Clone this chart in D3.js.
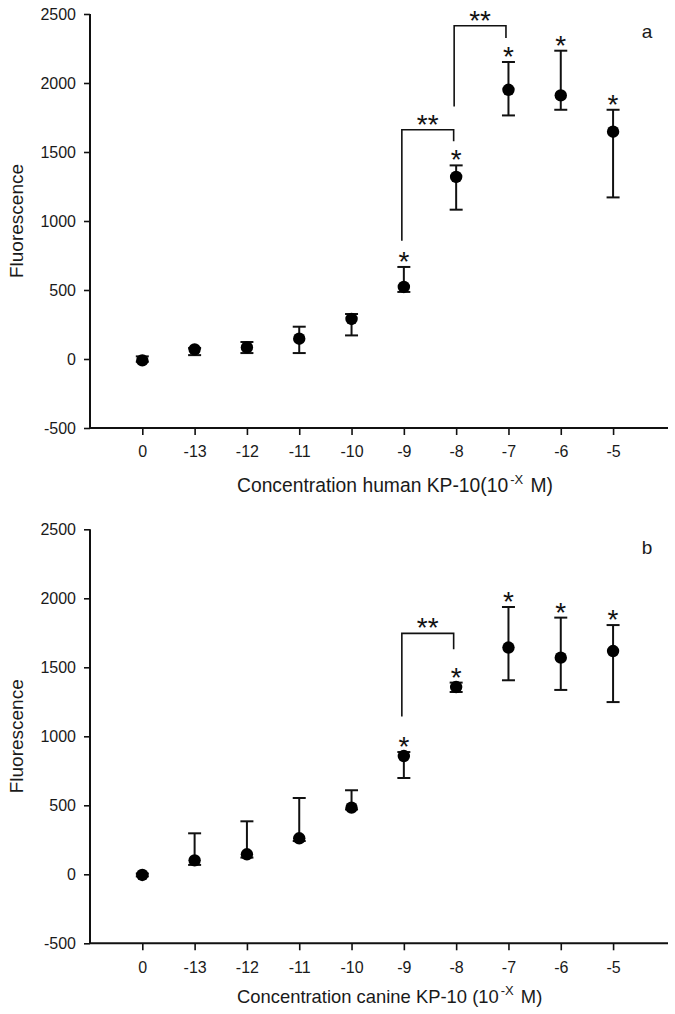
<!DOCTYPE html>
<html>
<head>
<meta charset="utf-8">
<script src="https://cdn.jsdelivr.net/npm/d3@7"></script>
<style>
  html, body { margin: 0; padding: 0; background: #fff; }
  svg { display: block; font-family: "Liberation Sans", Arial, sans-serif; }
</style>
</head>
<body>
<svg id="chart" width="675" height="1014"></svg>
<script>
// ---- data ----
const concentrations = ["0", "-13", "-12", "-11", "-10", "-9", "-8", "-7", "-6", "-5"];
const yTicks = [-500, 0, 500, 1000, 1500, 2000, 2500];
const yTickLabels = ["-500", "0", "500", "1000", "1500", "2000", "2500"];

const humanMean  = [-10, 70, 84, 147, 290, 522, 1319, 1951, 1910, 1647];
const humanUpper = [19, 80, 123, 234, 326, 667, 1403, 2152, 2234, 1806];
const humanLower = [-20, 28, 43, 43, 171, 486, 1082, 1765, 1806, 1171];
const humanSig   = ["", "", "", "", "", "*", "*", "*", "*", "*"];
// brackets: [left category, right category, left leg bottom, top, right leg bottom]
const humanBrackets = [
  ["-9", "-8", 857, 1661, 1577],
  ["-8", "-7", 1830, 2415, 2326]
];

const canineMean  = [-5, 101, 145, 261, 483, 857, 1357, 1643, 1570, 1618];
const canineUpper = [5, 297, 384, 553, 609, 886, 1389, 1937, 1860, 1806];
const canineLower = [-15, 68, 121, 241, 470, 698, 1321, 1406, 1336, 1248];
const canineSig   = ["", "", "", "", "", "*", "*", "*", "*", "*"];
const canineBrackets = [
  ["-9", "-8", 1143, 1746, 1630]
];

// ---- drawing ----
const svg = d3.select("#chart");
const ink = "#111";

function panel(cfg) {
  const g = svg.append("g");
  const x = d3.scaleLinear().domain([-1, 10.05]).range([90, 668]);
  const y = d3.scaleLinear().domain([-500, 2500]).range([cfg.bottom, cfg.bottom - 414]);
  const xi = c => x(concentrations.indexOf(c));

  // y axis
  const yAxis = g.append("g").attr("transform", "translate(90,0)")
    .call(d3.axisLeft(y).tickValues(yTicks).tickSize(6).tickPadding(8)
      .tickFormat(v => yTickLabels[yTicks.indexOf(v)]));
  // x axis
  const xAxis = g.append("g").attr("transform", `translate(0,${cfg.bottom})`)
    .call(d3.axisBottom(x).tickValues(d3.range(concentrations.length)).tickSize(7).tickPadding(11)
      .tickFormat(i => concentrations[i]));
  [yAxis, xAxis].forEach(a => {
    a.select(".domain").attr("stroke", ink).attr("stroke-width", 2);
    a.selectAll(".tick line").attr("stroke", ink).attr("stroke-width", 1.6);
    a.selectAll(".tick text").attr("fill", "#1a1a1a").style("font-size", "16px")
      .style("font-family", '"Liberation Sans", Arial, sans-serif');
  });
  yAxis.select(".domain").attr("d", `M0,${y(2500)}V${y(-500)}`);
  xAxis.select(".domain").attr("d", `M90,0H668`);

  const data = concentrations.map((c, i) => ({
    c, m: cfg.mean[i], hi: cfg.upper[i], lo: cfg.lower[i], s: cfg.sig[i]
  }));

  // error bars
  const eb = g.append("g").attr("stroke", ink).attr("stroke-width", 2).attr("fill", "none");
  data.forEach(d => {
    const cx = xi(d.c);
    eb.append("line").attr("x1", cx).attr("x2", cx).attr("y1", y(d.hi)).attr("y2", y(d.lo));
    eb.append("line").attr("x1", cx - 6.5).attr("x2", cx + 6.5).attr("y1", y(d.hi)).attr("y2", y(d.hi));
    eb.append("line").attr("x1", cx - 6.5).attr("x2", cx + 6.5).attr("y1", y(d.lo)).attr("y2", y(d.lo));
  });

  // points
  g.append("g").selectAll("circle").data(data).join("circle")
    .attr("cx", d => xi(d.c)).attr("cy", d => y(d.m)).attr("r", 6.2).attr("fill", "#000");

  // significance stars
  g.append("g").selectAll("text").data(data.filter(d => d.s)).join("text")
    .attr("x", d => xi(d.c)).attr("y", d => y(d.hi) + 4)
    .attr("text-anchor", "middle").style("font-size", "28px").attr("fill", "#111")
    .text(d => d.s);

  // brackets
  const br = g.append("g");
  cfg.brackets.forEach(b => {
    const x1 = xi(b[0]) - 2, x2 = xi(b[1]) - 2.5;
    br.append("path")
      .attr("d", `M${x1},${y(b[2])}V${y(b[3])}H${x2}V${y(b[4])}`)
      .attr("fill", "none").attr("stroke", ink).attr("stroke-width", 1.6);
    br.append("text").attr("x", (x1 + x2) / 2).attr("y", y(b[3]) + 4)
      .attr("text-anchor", "middle").style("font-size", "28px").attr("fill", "#111")
      .text("**");
  });

  // y label
  g.append("text")
    .attr("transform", `translate(16,${cfg.bottom - 207}) rotate(-90)`)
    .attr("text-anchor", "middle").attr("dominant-baseline", "central")
    .style("font-size", "19px").attr("fill", "#1a1a1a").text("Fluorescence");

  // x title
  const t = g.append("text").attr("x", 237).attr("y", cfg.bottom + cfg.titleOffset)
    .style("font-size", cfg.titleSize + "px").attr("fill", "#1a1a1a");
  t.append("tspan").text(cfg.titleMain);
  t.append("tspan").attr("dy", -8).attr("dx", 2).style("font-size", "13px").text("-X");
  t.append("tspan").attr("dy", 8).attr("dx", 2).text(" M)");

  // panel letter
  g.append("text").attr("x", 647).attr("y", cfg.bottom - 414 + cfg.letterOffset)
    .attr("text-anchor", "middle").style("font-size", "19px").attr("fill", "#1a1a1a")
    .text(cfg.letter);
}

panel({
  bottom: 428, mean: humanMean, upper: humanUpper, lower: humanLower, sig: humanSig,
  brackets: humanBrackets, titleMain: "Concentration human KP-10(10", titleSize: 19.3,
  titleOffset: 64, letter: "a", letterOffset: 24
});
panel({
  bottom: 943.3, mean: canineMean, upper: canineUpper, lower: canineLower, sig: canineSig,
  brackets: canineBrackets, titleMain: "Concentration canine KP-10 (10", titleSize: 18.4,
  titleOffset: 60, letter: "b", letterOffset: 25
});
</script>
</body>
</html>
